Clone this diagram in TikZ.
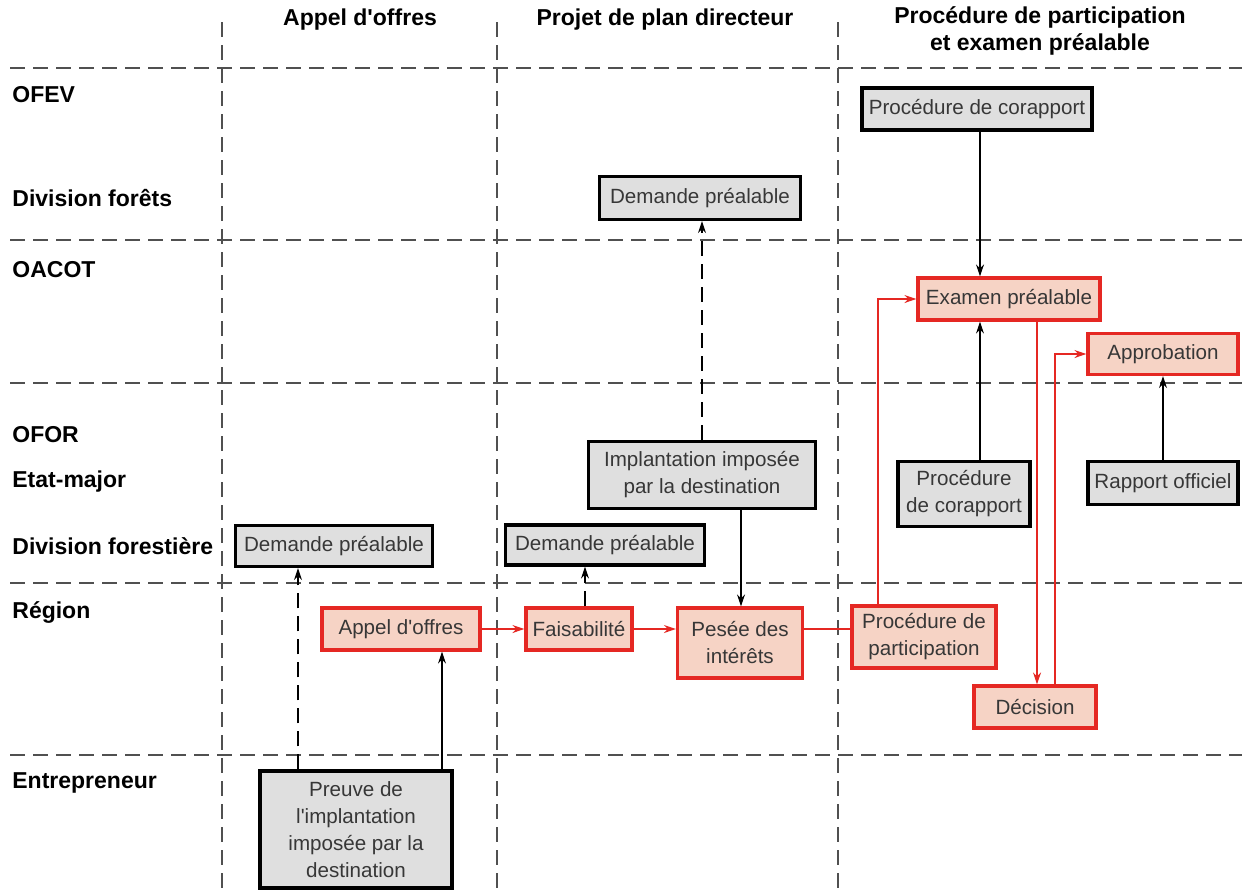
\documentclass[tikz,border=0pt]{standalone}
\usepackage{fontspec}
\setmainfont{Liberation Sans}
\usetikzlibrary{arrows.meta}
\definecolor{gfill}{RGB}{223,223,223}
\definecolor{rfill}{RGB}{246,211,197}
\definecolor{rline}{RGB}{229,40,35}
\definecolor{dline}{RGB}{80,80,80}
\definecolor{btext}{RGB}{55,55,55}
\begin{document}
\begin{tikzpicture}[x=0.5pt,y=-0.5pt,
 lane/.style={dash pattern=on 7.5pt off 4pt, line width=0.6pt, draw=dline},
 gbox/.style={draw=black, line width=1.6pt, fill=gfill, inner sep=0pt, align=center, font=\fontsize{10.3}{13.5}\selectfont, text=btext},
 rbox/.style={gbox, draw=rline, fill=rfill},
 lbl/.style={anchor=west, inner sep=0pt, font=\fontsize{11.5}{13.5}\selectfont\bfseries},
 hdr/.style={inner sep=0pt, font=\fontsize{11.5}{13.5}\selectfont\bfseries, align=center},
 arr/.style={-{Stealth[length=6pt,width=4pt]}, line width=0.6pt},
 darr/.style={arr, dash pattern=on 7.5pt off 4pt},
 rarr/.style={arr, draw=rline, color=rline, line width=0.7pt},
 rline/.style={line width=0.7pt, draw=rline}]
\fill[white] (0,0) rectangle (1242,890);
\useasboundingbox (0,0) rectangle (1242,890);

% headers
\node[hdr] (h1) at (360,20) {Appel d\textquotesingle offres};
\node[hdr] (h2) at (665,20) {Projet de plan directeur};
\node[hdr] (h3) at (1040,31) {Procédure de participation\\et examen préalable};

% lane labels
\node[lbl] (l1) at (12,95) {OFEV};
\node[lbl] (l2) at (12,198) {Division forêts};
\node[lbl] (l3) at (12,270) {OACOT};
\node[lbl] (l4) at (12,435) {OFOR};
\node[lbl] (l5) at (12,482) {Etat-major};
\node[lbl] (l6) at (12,546) {Division forestière};
\node[lbl] (l7) at (12,612) {Région};
\node[lbl] (l8) at (12,783) {Entrepreneur};

% lanes
\foreach \yy in {68,240,383,583,755} \draw[lane] (10,\yy) -- (1242,\yy);
\foreach \xx in {222,497,838} \draw[lane] (\xx,22) -- (\xx,890);

% boxes
\node[gbox, minimum width=115pt, minimum height=21pt] (corap1) at (977,109) {Procédure de corapport};
\node[gbox, minimum width=100.5pt, minimum height=21.5pt] (demF) at (700,198) {Demande préalable};
\node[gbox, minimum width=113.5pt, minimum height=33.5pt] (impl) at (702,475) {Implantation imposée\\par la destination};
\node[gbox, minimum width=98.5pt, minimum height=20.5pt] (dem1) at (334,546) {Demande préalable};
\node[gbox, minimum width=99.5pt, minimum height=20pt] (dem2) at (605,545) {Demande préalable};
\node[gbox, minimum width=66pt, minimum height=32.5pt] (corap2) at (964,494) {Procédure\\de corapport};
\node[gbox, minimum width=75pt, minimum height=21.5pt] (rapport) at (1163,483) {Rapport officiel};
\node[gbox, minimum width=96pt, minimum height=58.5pt] (preuve) at (356,829.5) {Preuve de\\l\textquotesingle implantation\\imposée par la\\destination};
\node[rbox, minimum width=91pt, minimum height=21pt] (exam) at (1009,299) {Examen préalable};
\node[rbox, minimum width=75pt, minimum height=20.5pt] (approb) at (1163,354) {Approbation};
\node[rbox, minimum width=79pt, minimum height=21pt] (appel) at (401,629) {Appel d\textquotesingle offres};
\node[rbox, minimum width=53pt, minimum height=21pt] (faisa) at (579,629) {Faisabilité};
\node[rbox, minimum width=62.5pt, minimum height=35pt] (pesee) at (740,643) {Pesée des\\intérêts};
\node[rbox, minimum width=72pt, minimum height=31pt] (partic) at (924,637) {Procédure de\\participation};
\node[rbox, minimum width=61pt, minimum height=21pt] (decis) at (1035,707) {Décision};

% helper coordinates
\coordinate (x298) at (298,0);
\coordinate (x442) at (442,0);
\coordinate (x585) at (585,0);
\coordinate (x702) at (702,0);
\coordinate (x741) at (741,0);
\coordinate (x980) at (980,0);
\coordinate (x1163) at (1163,0);
\coordinate (x878) at (878,0);
\coordinate (x1037) at (1037,0);
\coordinate (x1055) at (1055,0);
\coordinate (y629) at (0,629);

% black connectors
\draw[darr] (preuve.north -| x298) -- (dem1.south -| x298);
\draw[arr] (preuve.north -| x442) -- (appel.south -| x442);
\draw[darr] (faisa.north -| x585) -- (dem2.south -| x585);
\draw[darr] (impl.north -| x702) -- (demF.south -| x702);
\draw[arr] (impl.south -| x741) -- (pesee.north -| x741);
\draw[arr] (corap1.south -| x980) -- (exam.north -| x980);
\draw[arr] (corap2.north -| x980) -- (exam.south -| x980);
\draw[arr] (rapport.north -| x1163) -- (approb.south -| x1163);

% red connectors
\draw[rarr] (appel.east) -- (faisa.west);
\draw[rarr] (faisa.east) -- (pesee.west |- y629);
\draw[rline] (pesee.east |- y629) -- (partic.west |- y629);
\draw[rarr] (partic.north -| x878) |- (exam.west);
\draw[rarr] (exam.south -| x1037) -- (decis.north -| x1037);
\draw[rarr] (decis.north -| x1055) |- (approb.west);
\end{tikzpicture}
\end{document}
